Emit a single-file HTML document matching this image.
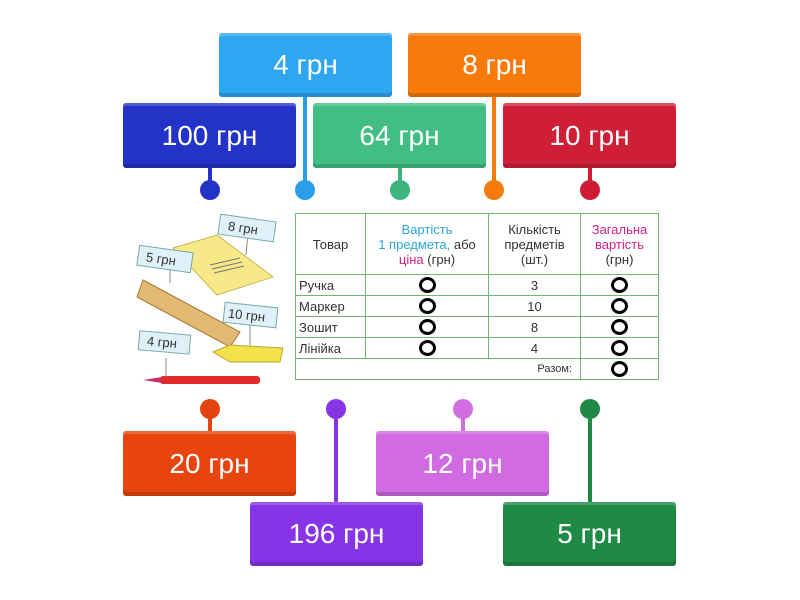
<!DOCTYPE html>
<html><head><meta charset="utf-8"><style>
body{margin:0;width:800px;height:600px;background:#fff;position:relative;overflow:hidden;font-family:"Liberation Sans","DejaVu Sans",sans-serif}
.b{position:absolute;width:173px;height:65px;border-radius:3px;color:#fff;font-size:28px;display:flex;align-items:center;justify-content:center;box-shadow:inset 0 -4px 0 rgba(0,0,0,0.15),inset 0 3px 0 rgba(255,255,255,0.2)}
.l{position:absolute;width:4px}
.d{position:absolute;width:20px;height:20px;border-radius:50%}
table{position:absolute;left:295px;top:213px;width:364px;height:167px;border-collapse:collapse;font-size:13px;color:#333}
td{border:1.5px solid #6fb86f;text-align:center;padding:0;line-height:15px}
.o{display:inline-block;width:11px;height:10px;border:3.5px solid #000;border-radius:50%;vertical-align:middle}
.lt{text-align:left;padding-left:3px}
</style></head><body>
<div class="l" style="left:303px;top:97px;height:93px;background:#2a9ee8"></div>
<div class="l" style="left:492px;top:97px;height:93px;background:#f57a0c"></div>
<div class="l" style="left:208px;top:168px;height:22px;background:#2433c7"></div>
<div class="l" style="left:398px;top:168px;height:22px;background:#3cb47e"></div>
<div class="l" style="left:588px;top:168px;height:22px;background:#cc1d35"></div>
<div class="d" style="left:200px;top:180px;background:#2433c7"></div>
<div class="d" style="left:295px;top:180px;background:#2a9ee8"></div>
<div class="d" style="left:390px;top:180px;background:#3cb47e"></div>
<div class="d" style="left:484px;top:180px;background:#f57a0c"></div>
<div class="d" style="left:580px;top:180px;background:#cc1d35"></div>

<div class="l" style="left:208px;top:409px;height:22px;background:#e4420f"></div>
<div class="l" style="left:334px;top:409px;height:93px;background:#8733e6"></div>
<div class="l" style="left:461px;top:409px;height:22px;background:#d06ee0"></div>
<div class="l" style="left:588px;top:409px;height:93px;background:#1f8a46"></div>
<div class="d" style="left:200px;top:399px;background:#e4420f"></div>
<div class="d" style="left:326px;top:399px;background:#8733e6"></div>
<div class="d" style="left:453px;top:399px;background:#d06ee0"></div>
<div class="d" style="left:580px;top:399px;background:#1f8a46"></div>

<div class="b" style="left:219px;top:33px;height:64px;background:#2ea6f0">4 грн</div>
<div class="b" style="left:408px;top:33px;height:64px;background:#f77a0a">8 грн</div>
<div class="b" style="left:123px;top:103px;background:#2433c7">100 грн</div>
<div class="b" style="left:313px;top:103px;background:#42be85">64 грн</div>
<div class="b" style="left:503px;top:103px;background:#cf1f36">10 грн</div>

<div class="b" style="left:123px;top:431px;background:#e8440f">20 грн</div>
<div class="b" style="left:376px;top:431px;background:#d16be2">12 грн</div>
<div class="b" style="left:250px;top:502px;height:64px;background:#8733e6">196 грн</div>
<div class="b" style="left:503px;top:502px;height:64px;background:#1f8a46">5 грн</div>

<svg style="position:absolute;left:0;top:0" width="800" height="600">
<polygon points="173,248 217,235 273,277 217,295" fill="#f7e98a" stroke="#c9b750"/>
<line x1="210" y1="265" x2="240" y2="258" stroke="#777"/><line x1="212" y1="269" x2="242" y2="262" stroke="#777"/><line x1="214" y1="273" x2="244" y2="266" stroke="#777"/>
<polygon points="143,280 240,332 230,347 137,297" fill="#e3b870" stroke="#a07a3a"/>
<polygon points="213,352 230,345 283,348 280,362 230,362" fill="#f3e24a" stroke="#b8a630"/>
<rect x="160" y="376" width="100" height="8" rx="3" fill="#e12a2a"/>
<polygon points="143,380 162,377 162,383" fill="#d02a6a"/>
<line x1="166" y1="358" x2="166" y2="377" stroke="#888"/>
<line x1="170" y1="265" x2="170" y2="283" stroke="#888"/>
<line x1="248" y1="232" x2="246" y2="255" stroke="#888"/>
<line x1="250" y1="322" x2="250" y2="345" stroke="#888"/>
<g font-size="13" fill="#333">
<rect x="219" y="218" width="56" height="20" fill="#dff0f8" stroke="#7aa" transform="rotate(8 247 228)"/><text x="228" y="233" transform="rotate(8 247 228)">8 грн</text>
<rect x="138" y="249" width="54" height="20" fill="#dff0f8" stroke="#7aa" transform="rotate(8 165 259)"/><text x="146" y="264" transform="rotate(8 165 259)">5 грн</text>
<rect x="224" y="305" width="53" height="20" fill="#dff0f8" stroke="#7aa" transform="rotate(6 250 315)"/><text x="228" y="320" transform="rotate(6 250 315)">10 грн</text>
<rect x="139" y="333" width="51" height="19" fill="#dff0f8" stroke="#7aa" transform="rotate(5 165 342)"/><text x="147" y="347" transform="rotate(5 165 342)">4 грн</text>
</g>
</svg>

<table>
<tr style="height:61px"><td style="width:69px">Товар</td><td style="width:122px"><span style="color:#2aa7d8">Вартість<br>1 предмета,</span> або<br><span style="color:#d0208a">ціна</span> (грн)</td><td style="width:91px">Кількість<br>предметів<br>(шт.)</td><td><span style="color:#d0208a">Загальна<br>вартість</span><br>(грн)</td></tr>
<tr><td class="lt">Ручка</td><td><span class="o"></span></td><td>3</td><td><span class="o"></span></td></tr>
<tr><td class="lt">Маркер</td><td><span class="o"></span></td><td>10</td><td><span class="o"></span></td></tr>
<tr><td class="lt">Зошит</td><td><span class="o"></span></td><td>8</td><td><span class="o"></span></td></tr>
<tr><td class="lt">Лінійка</td><td><span class="o"></span></td><td>4</td><td><span class="o"></span></td></tr>
<tr><td colspan="3" style="text-align:right;padding-right:8px;font-size:11px">Разом:</td><td><span class="o"></span></td></tr>
</table>
</body></html>
